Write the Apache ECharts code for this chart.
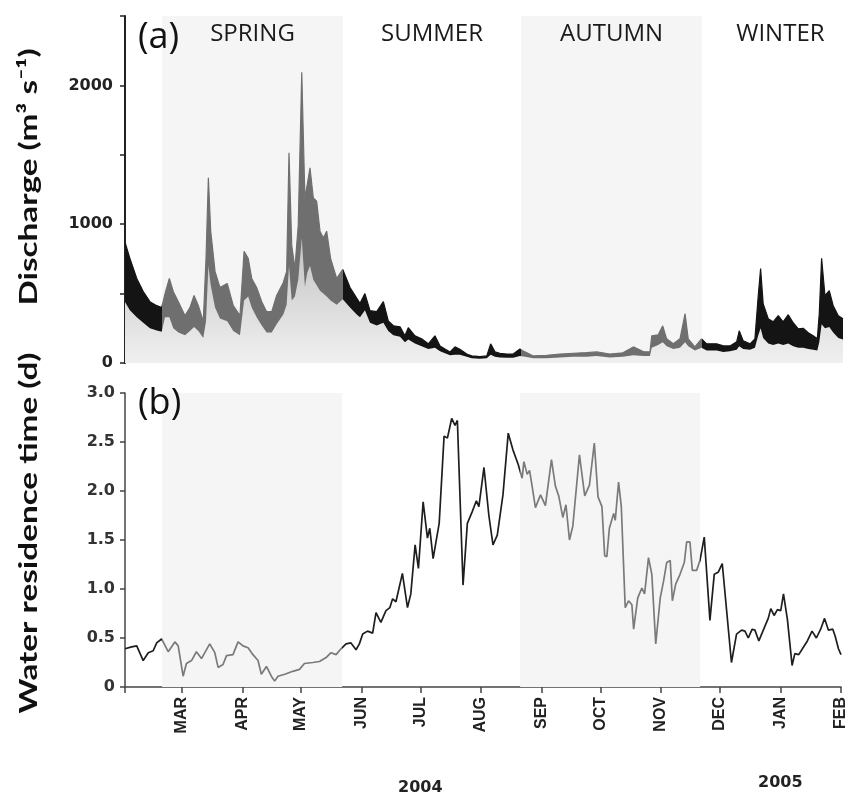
<!DOCTYPE html>
<html>
<head>
<meta charset="utf-8">
<script src="https://cdn.jsdelivr.net/npm/echarts@6/dist/echarts.min.js"></script>
<style>html,body{margin:0;padding:0;background:#fff}#c{width:849px;height:800px}</style>
</head>
<body>
<div id="c"></div>
<script>
// ---------------- data ----------------
const startDate = '2004-02-01';
const endDate = '2005-02-01';
const monthLabels = ['JAN','FEB','MAR','APR','MAY','JUN','JUL','AUG','SEP','OCT','NOV','DEC'];
const yearLabels = ['2004', '2005'];
const seasonNames = ['SPRING', 'SUMMER', 'AUTUMN', 'WINTER'];
const seasonBounds = ['2004-02-20', '2004-05-22', '2004-08-21', '2004-11-21', '2005-02-01'];
const dischargeTicks = [0, 1000, 2000];
const titleTop = 'Discharge (m³ s⁻¹)';
const titleBottom = 'Water residence time (d)';

// discharge (m3/s): days since 1 Feb 2004, upper edge of band, lower edge of band
const qDays = [0,2.5,6,9.3,12.7,16.2,18.7,20.4,22.6,24.6,27.2,30.6,33.1,35.2,37.4,39.9,41.3,42.5,43.7,45.9,48.4,52.1,55.2,58.6,60.7,62.8,64.6,67.1,69.7,72.2,74.8,77.3,80.7,82.4,83.6,85,86.6,88.3,90.1,91.7,92.9,94.3,96,97.7,99.4,101.1,102.8,104.8,107.9,111,114.7,118.1,119.8,122.3,124.9,128.3,131.7,134.2,136.8,140.2,142.7,144.4,147.8,151.2,154.6,158,160.6,163.1,165.7,168.2,170.7,174.2,176.7,180.9,184.4,186.4,188.6,191.1,194.6,197.9,201.3,203.9,208.1,214.9,221.7,228.5,235.3,240.4,247.2,253.8,259.1,264.2,267.6,268.5,271.8,274.1,276.1,279.5,282.9,285.5,287.1,290.5,293.9,296.5,301.6,305,308.4,311.8,313.1,315.1,318.6,321.1,322.8,324,325.3,327.9,330.4,333,335.5,338.1,340.6,343.2,345.7,348.3,350.8,352.9,353.9,355.1,356.8,359,361,363.6,366];
const qUpper = [870,754,609,515,442,413,399,500,609,515,442,341,399,486,413,297,754,1334,950,660,544,573,413,341,804,754,609,544,442,370,370,486,580,660,1515,848,681,993,2095,1189,1286,1406,1189,1165,950,900,950,754,609,674,544,467,430,500,377,370,442,304,268,261,196,254,196,174,138,196,123,101,80,116,99,65,51,46,51,138,80,70,65,65,101,80,51,55,65,70,75,80,65,73,116,82,80,196,203,268,174,138,174,355,174,116,174,138,138,123,123,153,232,160,138,174,486,681,428,319,297,341,297,348,290,246,250,218,196,174,355,754,486,522,413,341,319];
const qLower = [440,380,330,290,250,235,225,330,330,250,220,200,230,260,230,180,300,700,560,400,320,300,230,200,450,480,400,330,270,220,220,280,350,420,700,450,480,600,900,550,650,700,600,560,520,500,480,450,420,460,400,350,330,380,290,270,290,230,200,190,150,170,140,120,100,110,85,70,55,60,60,45,35,30,35,60,45,40,38,38,50,45,35,35,40,45,45,50,40,45,55,50,50,110,130,150,120,100,110,150,120,90,110,90,90,80,85,95,120,100,95,110,200,250,180,140,130,140,130,140,120,110,110,100,95,90,150,280,250,260,220,180,170];

// water residence time (d)
const rtDays = [0,3.4,6,9.3,11.9,14.4,16.2,18.7,22.1,25.5,27.2,29.7,31.4,34,36.5,39.1,43.3,45.9,47.6,50.1,51.9,55.2,57.8,60.3,62.9,65.4,68,69.7,72.3,74.8,76.5,78.2,81.7,85.8,89.2,91.7,96,99.4,102.8,105.3,107.9,110.4,113,115.5,118.1,119.8,121.5,124,126.6,128.3,130.8,133.4,135.4,136.8,138.5,141.8,144.4,146.1,148.3,150,152.4,154.6,155.8,157.5,160.6,163.1,164.8,167,168.7,169.9,172.8,175,177.5,179.6,180.9,183.5,186,188.1,190.3,193.2,195.9,198.3,201,203,203.9,205.6,206.8,208.1,209.8,212.4,214.9,218,220,221.7,223.8,225.4,227.2,228.9,232.3,235,237.4,239.9,241.8,243.8,245.2,246.3,247.6,249.8,250.6,252.3,253.7,255.7,257.4,259.1,260,262.1,264.2,265.6,267.6,269.3,271.3,273.6,275.3,276.9,278.7,279.8,281.5,283.7,285.9,287.1,288.8,290,292.2,293.9,296.1,299,301.2,303.2,305.3,306.3,310,312.6,315.2,316.9,318.6,320.6,322,324,326.7,328.8,330.1,331.8,333.5,335.2,336.6,338.6,341,342.4,344.4,346.6,348.8,351.2,353.4,355.6,357.6,359.6,361.8,363,364.7,366];
const rtValues = [0.39,0.41,0.42,0.27,0.35,0.37,0.45,0.49,0.36,0.46,
0.42,0.11,0.24,0.27,0.36,0.29,0.44,0.35,0.20,0.23,
0.32,0.33,0.46,0.42,0.40,0.33,0.27,0.13,0.21,0.11,
0.06,0.11,0.13,0.16,0.18,0.24,0.25,0.26,0.30,0.35,
0.33,0.39,0.44,0.45,0.38,0.44,0.54,0.57,0.55,0.76,
0.66,0.78,0.81,0.90,0.87,1.16,0.81,0.95,1.45,1.21,
1.89,1.52,1.62,1.31,1.67,2.56,2.54,2.74,2.67,2.72,
1.04,1.67,1.79,1.90,1.84,2.24,1.75,1.45,1.55,1.96,
2.59,2.42,2.27,2.13,2.30,2.17,2.21,2.05,1.83,1.96,
1.85,2.32,2.05,1.95,1.73,1.86,1.50,1.64,2.37,1.95,
2.06,2.49,1.94,1.84,1.34,1.33,1.62,1.77,1.70,2.09,
1.84,0.81,0.88,0.84,0.59,0.91,1.01,0.95,1.32,1.15,
0.44,0.91,1.08,1.27,1.29,0.88,1.05,1.15,1.27,1.48,
1.48,1.19,1.19,1.29,1.53,0.68,1.15,1.17,1.26,1.24,
0.25,0.54,0.58,0.57,0.50,0.59,0.58,0.47,0.60,0.70,
0.80,0.73,0.79,0.78,0.95,0.69,0.22,0.34,0.33,0.40,
0.47,0.57,0.50,0.59,0.70,0.58,0.59,0.52,0.39,0.33];

// ---------------- helpers ----------------
const DAY = 86400000;
const ts = s => Date.parse(s + 'T00:00:00Z');
const t0 = ts(startDate);
const toPairs = (days, vals) => days.map((d, i) => [t0 + d * DAY, vals[i]]);

const BLACK = '#141414', GREY = '#6f6f6f';
const seasonPieces = (dark, light) => {
  const b = seasonBounds.map(ts);
  return [
    { lt: b[0], color: dark },
    { gte: b[0], lt: b[1], color: light },
    { gte: b[1], lt: b[2], color: dark },
    { gte: b[2], lt: b[3], color: light },
    { gte: b[3], color: dark }
  ];
};
const seasonAreas = (withLabel) => seasonNames.map((n, i) => [
  { name: withLabel ? n : '', xAxis: ts(seasonBounds[i]),
    itemStyle: { color: i % 2 === 0 ? '#f5f5f5' : 'rgba(255,255,255,0)' },
    label: i === 3 ? { offset: [8, 0] } : undefined },
  { xAxis: ts(seasonBounds[i + 1]) }
]);

const tickFont = { fontFamily: 'DejaVu Sans', fontWeight: 'bold', color: '#222' };
const titleStyle = (text) => ({ text: text, x: 0, y: 0, align: 'center', verticalAlign: 'middle',
  font: 'bold 25px Lato', fill: '#111' });

const chart = echarts.init(document.getElementById('c'), null, { renderer: 'canvas' });
chart.setOption({
  animation: false,
  useUTC: true,
  backgroundColor: '#fff',
  grid: [
    { left: 125, right: 6, top: 16, height: 347 },
    { left: 125, right: 6, top: 393, height: 294 }
  ],
  xAxis: [
    { type: 'time', gridIndex: 0, min: ts(startDate), max: ts(endDate), show: false },
    { type: 'time', gridIndex: 1, min: ts(startDate), max: ts(endDate), splitNumber: 12,
      axisLine: { lineStyle: { color: '#444', width: 1.5 } },
      axisTick: { show: true, length: 6, lineStyle: { color: '#444', width: 1.5 } },
      splitLine: { show: false },
      minorTick: { show: false },
      axisLabel: {
        rotate: 90, fontSize: 16, margin: 10, showMaxLabel: true,
        fontFamily: 'Liberation Sans', fontWeight: 'bold', color: '#222',
        formatter: v => (v <= t0 ? '' : monthLabels[new Date(v).getUTCMonth()])
      }
    }
  ],
  yAxis: [
    { type: 'value', gridIndex: 0, min: 0, max: 2500, interval: 500,
      axisLine: { show: true, lineStyle: { color: '#222', width: 2 } },
      axisTick: { show: true, length: 5, lineStyle: { color: '#222', width: 1.5 } },
      splitLine: { show: false },
      axisLabel: Object.assign({ fontSize: 16, margin: 12,
        formatter: v => dischargeTicks.indexOf(v) >= 0 ? String(v) : '' }, tickFont)
    },
    { type: 'value', gridIndex: 1, min: 0, max: 3, interval: 0.5,
      axisLine: { show: true, lineStyle: { color: '#444', width: 1.5 } },
      axisTick: { show: true, length: 5, lineStyle: { color: '#444', width: 1.5 } },
      splitLine: { show: false },
      axisLabel: Object.assign({ fontSize: 16, margin: 10,
        formatter: v => v === 0 ? '0' : v.toFixed(1) }, tickFont, { color: '#333' })
    }
  ],
  visualMap: [
    { type: 'piecewise', show: false, dimension: 0, seriesIndex: 0, pieces: seasonPieces(BLACK, GREY) },
    { type: 'piecewise', show: false, dimension: 0, seriesIndex: 2, pieces: seasonPieces('#1e1e1e', '#7a7a7a') }
  ],
  series: [
    { type: 'line', xAxisIndex: 0, yAxisIndex: 0, data: toPairs(qDays, qUpper),
      symbol: 'none', lineStyle: { width: 1.2 }, areaStyle: { opacity: 1 },
      markArea: { silent: true, data: seasonAreas(true),
        label: { show: true, position: 'insideTop', distance: 6, fontFamily: 'Open Sans',
          fontSize: 24, color: '#1a1a1a' } }
    },
    { type: 'line', xAxisIndex: 0, yAxisIndex: 0, data: toPairs(qDays, qLower),
      symbol: 'none', lineStyle: { width: 0 },
      areaStyle: { opacity: 1, color: new echarts.graphic.LinearGradient(0, 0, 0, 1, [
        { offset: 0, color: '#c2c2c2' }, { offset: 0.6, color: '#dedede' }, { offset: 1, color: '#f0f0f0' }]) }
    },
    { type: 'line', xAxisIndex: 1, yAxisIndex: 1, data: toPairs(rtDays, rtValues),
      symbol: 'none', lineStyle: { width: 1.7 },
      markArea: { silent: true, data: seasonAreas(false), label: { show: false } }
    }
  ],
  graphic: [
    { type: 'text', z: 100, left: 138, top: 20, style: { text: '(a)', font: '36px "Open Sans"', fill: '#111' } },
    { type: 'text', z: 100, left: 138, top: 386, style: { text: '(b)', font: '36px "Open Sans"', fill: '#111' } },
    { type: 'text', z: 100, x: 29, y: 177, rotation: Math.PI / 2, scaleX: 1.33, style: titleStyle(titleTop) },
    { type: 'text', z: 100, x: 29, y: 533, rotation: Math.PI / 2, scaleX: 1.33, style: titleStyle(titleBottom) },
    { type: 'text', z: 100, left: 398, top: 780, style: { text: yearLabels[0], font: 'bold 16px "DejaVu Sans"', fill: '#222' } },
    { type: 'text', z: 100, left: 758, top: 775, style: { text: yearLabels[1], font: 'bold 16px "DejaVu Sans"', fill: '#222' } }
  ]
});
</script>
</body>
</html>
